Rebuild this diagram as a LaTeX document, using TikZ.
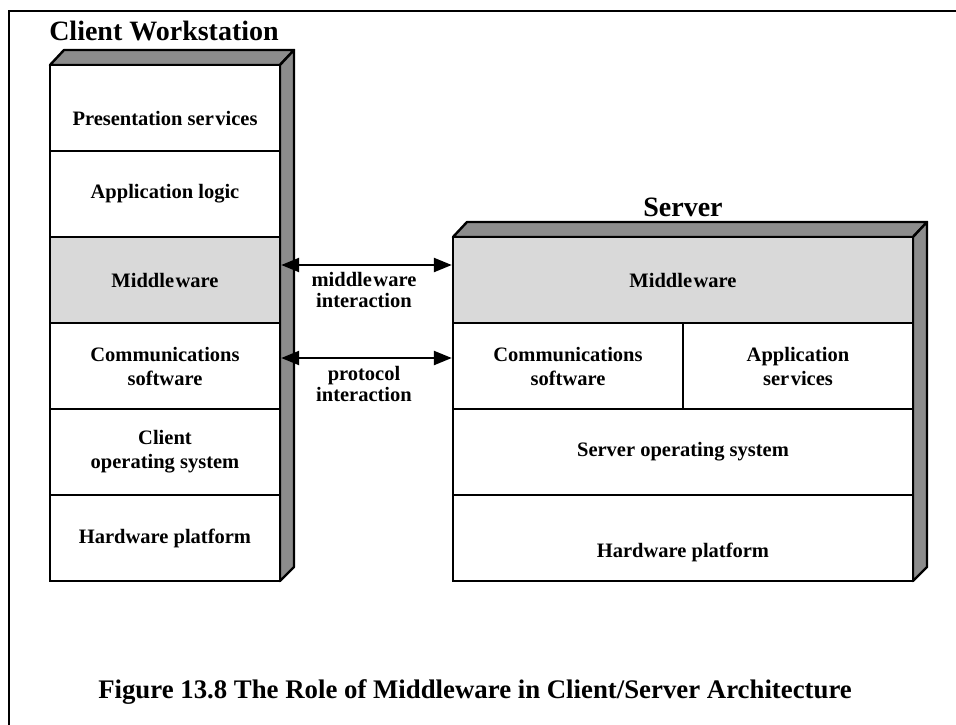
\documentclass[tikz,border=0pt]{standalone}
\usepackage{fontspec}
\setmainfont{Liberation Serif}
\usetikzlibrary{arrows.meta}
\definecolor{sidegray}{HTML}{8C8C8C}
\definecolor{midgray}{HTML}{D9D9D9}
\tikzset{
  layer/.style={draw=black, line width=2.4pt, fill=white, inner sep=0pt, align=center,
    font=\fontsize{20.5}{24}\selectfont\bfseries},
  cl/.style={layer, minimum width=230pt, minimum height=86pt},
  sv/.style={layer, minimum width=460pt, minimum height=86pt},
  half/.style={layer, minimum width=230pt, minimum height=86pt},
  face/.style={draw=black, line width=2.4pt, fill=sidegray, line join=round},
  conn/.style={line width=2.4pt, {Triangle[length=18pt,width=14pt]}-{Triangle[length=18pt,width=14pt]}},
  lbl/.style={font=\fontsize{20.5}{21}\selectfont\bfseries, align=center},
  title/.style={font=\fontsize{28}{30}\selectfont\bfseries},
  captionstyle/.style={font=\fontsize{26.8}{30}\selectfont\bfseries}
}
\newcommand{\gp}{\kern1.5pt}
\begin{document}
\begin{tikzpicture}[x=1pt,y=-1pt]
\useasboundingbox (0,0) rectangle (956,725);
% frame
\draw[line width=2pt] (9,725) -- (9,11) -- (956,11);
% client 3D faces
\draw[face] (50,65) -- (64,50) -- (294,50) -- (280,65) -- cycle;
\draw[face] (280,65) -- (294,50) -- (294,567) -- (280,581) -- cycle;
% client layers
\node[cl, text height=36pt, text depth=2pt] (c1) at (165,108) {Presentation ser\gp vices};
\node[cl] (c2) at (165,194) {Application logic};
\node[cl, fill=midgray] (cmid) at (165,280) {Middle\gp ware};
\node[cl] (ccom) at (165,366) {Communications\\software};
\node[cl] (cos) at (165,452) {Client\\operating system};
\node[cl] (chw) at (165,538) {Hardware platform};
\node[title, anchor=base] (ctitle) at (164,41) {Client Workstation};
% server 3D faces
\draw[face] (453,237) -- (467,222) -- (927,222) -- (913,237) -- cycle;
\draw[face] (913,237) -- (927,222) -- (927,567) -- (913,581) -- cycle;
% server layers
\node[sv, fill=midgray] (smid) at (683,280) {Middle\gp ware};
\node[half] (scom) at (568,366) {Communications\\software};
\node[half] (sapp) at (798,366) {Application\\ser\gp vices};
\node[sv] (sos) at (683,452) {Server operating system};
\node[sv, text height=40pt, text depth=2pt] (shw) at (683,538) {Hardware platform};
\node[title, anchor=base] (stitle) at (683,216) {Server};
% connectors
\coordinate (a1) at (0,265);
\coordinate (a2) at (0,358);
\draw[conn] (cmid.east |- a1) -- (smid.west |- a1);
\draw[conn] (ccom.east |- a2) -- (scom.west |- a2);
\node[lbl] (l1) at (364,290) {middle\gp ware\\interaction};
\node[lbl] (l2) at (364,384) {protocol\\interaction};
% caption
\node[captionstyle, anchor=base] (cap) at (475,698) {Figure 13.8 The Role of Middleware in Client/Server Architecture};
\end{tikzpicture}
\end{document}
